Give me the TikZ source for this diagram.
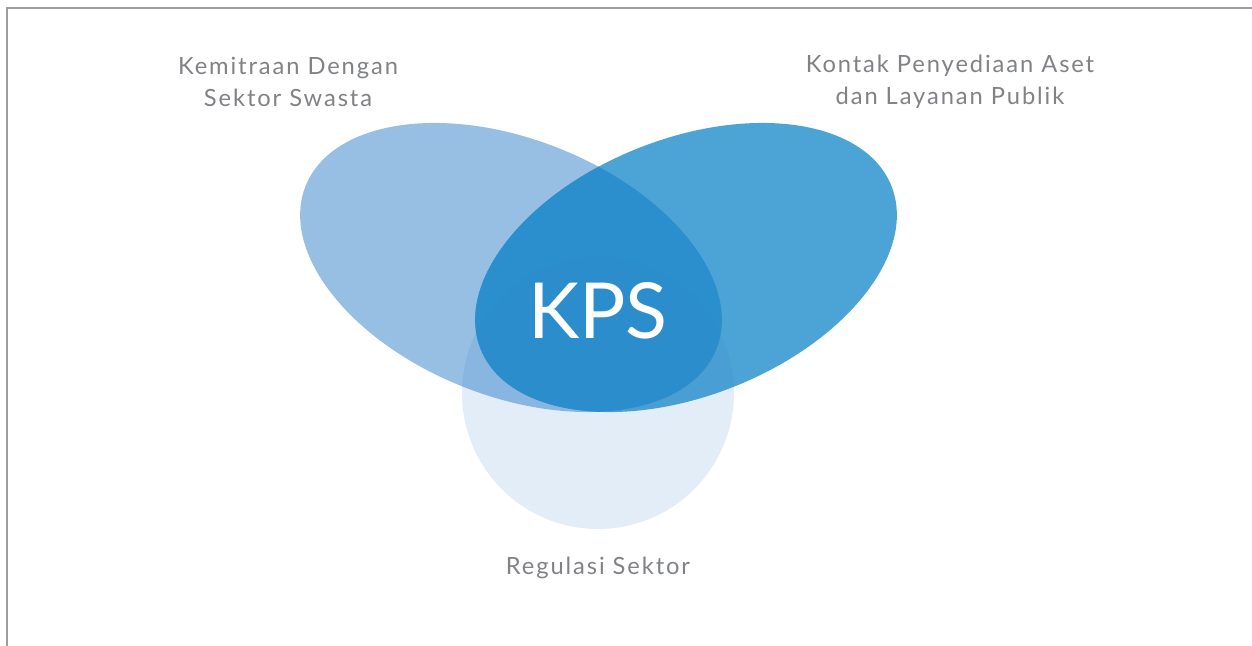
\documentclass[tikz,border=0pt]{standalone}
\usepackage{fontspec}
\setmainfont{Lato}
\newfontfamily\labelfont[LetterSpace=8]{Lato}
\definecolor{framegray}{HTML}{9D9D9D}
\definecolor{labelgray}{HTML}{808285}
\definecolor{leftblue}{HTML}{97BFE3}
\definecolor{rightblue}{HTML}{4CA3D5}
\definecolor{lensblue}{HTML}{2A8FCC}
\definecolor{veilblue}{HTML}{3E87D0}

\begin{document}
\begin{tikzpicture}[x=0.02cm,y=0.02cm,
  lbl/.style={text=labelgray, align=center, font=\labelfont\fontsize{13.5}{18.1}\selectfont}]

\useasboundingbox (0,0) rectangle (1252,-646);

% the frame, top and left only
\draw[framegray, line width=1.3pt] (7,-646) -- (7,-8) -- (1252,-8);

% the three sets
\fill[leftblue] (511,-267.5) ellipse [x radius=221, y radius=128.5, rotate=-21.6];
\fill[rightblue] (686,-267.5) ellipse [x radius=221, y radius=128.5, rotate=21.6];
\begin{scope}
  \clip (511,-267.5) ellipse [x radius=221, y radius=128.5, rotate=-21.6];
  \fill[lensblue] (686,-267.5) ellipse [x radius=221, y radius=128.5, rotate=21.6];
\end{scope}
\fill[veilblue, fill opacity=0.15] (598,-393) circle (136);

\node (kps) at (598,-311) {\fontsize{44}{48}\selectfont\color{white}KPS};

\node[lbl] (kemitraan) at (288,-82) {Kemitraan Dengan\\Sektor Swasta};
\node[lbl] (kontrak) at (950,-82) {Kontak Penyediaan Aset\\dan Layanan Publik};
\node[lbl] (regulasi) at (598,-568) {Regulasi Sektor};

\end{tikzpicture}
\end{document}
